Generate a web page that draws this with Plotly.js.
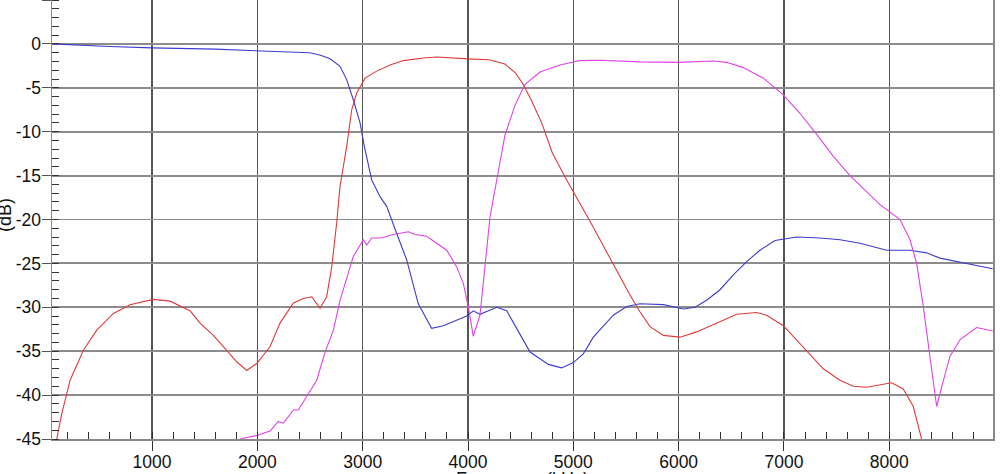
<!DOCTYPE html>
<html>
<head>
<meta charset="utf-8">
<script src="https://cdn.plot.ly/plotly-3.0.1.min.js"></script>
<style>
html,body{margin:0;padding:0;background:#fff;}
#chart{width:1000px;height:474px;}
</style>
</head>
<body>
<div id="chart"></div>
<script>
// Low-pass (blue)
const blueFreq = [50, 300, 600, 1000, 1300, 1600, 1930, 2200, 2500, 2600, 2690, 2785, 2848, 2911, 2975, 3016, 3086, 3165, 3228, 3323, 3418, 3528, 3655, 3766, 3893, 3988, 4050, 4114, 4273, 4368, 4462, 4589, 4763, 4890, 5000, 5095, 5190, 5380, 5507, 5633, 5855, 6045, 6155, 6266, 6393, 6519, 6646, 6772, 6915, 7120, 7342, 7532, 7722, 7975, 8197, 8355, 8481, 8608, 8798, 8982];
const blueDb = [0, -0.15, -0.3, -0.45, -0.5, -0.6, -0.76, -0.85, -1.0, -1.3, -1.7, -2.55, -4.07, -6.36, -9.0, -11.7, -15.5, -17.4, -18.5, -21.6, -24.6, -29.6, -32.4, -32.1, -31.5, -31.0, -30.4, -30.8, -30.0, -30.4, -32.4, -35.1, -36.5, -36.9, -36.3, -35.3, -33.4, -30.9, -29.9, -29.6, -29.7, -30.2, -30.0, -29.2, -28.0, -26.3, -24.8, -23.5, -22.4, -22.0, -22.1, -22.3, -22.7, -23.5, -23.5, -23.8, -24.4, -24.7, -25.1, -25.6];

// Band-pass (red)
const redFreq = [95, 143, 222, 348, 475, 633, 791, 1013, 1171, 1361, 1456, 1582, 1709, 1804, 1899, 1994, 2120, 2215, 2342, 2436, 2516, 2595, 2658, 2706, 2753, 2785, 2848, 2896, 2943, 3022, 3133, 3260, 3386, 3576, 3703, 3829, 4000, 4200, 4350, 4450, 4520, 4600, 4700, 4800, 4937, 5158, 5380, 5538, 5633, 5728, 5855, 6013, 6171, 6361, 6551, 6741, 6836, 6994, 7184, 7373, 7532, 7658, 7785, 7943, 8022, 8133, 8228, 8307];
const redDb = [-45, -42.1, -38.3, -34.9, -32.6, -30.7, -29.7, -29.1, -29.3, -30.4, -31.8, -33.2, -34.9, -36.2, -37.2, -36.4, -34.5, -31.8, -29.5, -29.0, -28.8, -30.1, -28.8, -25.4, -20.4, -16.2, -11.7, -7.5, -5.6, -3.9, -3.1, -2.4, -1.9, -1.6, -1.5, -1.6, -1.7, -1.8, -2.3, -3.3, -4.5, -6.4, -9.0, -12.4, -15.5, -20.2, -25.2, -28.6, -30.5, -32.2, -33.2, -33.4, -32.8, -31.8, -30.8, -30.6, -30.9, -32.1, -34.5, -37.0, -38.3, -39.0, -39.1, -38.8, -38.6, -39.3, -41.3, -45];

// High-pass (magenta)
const magFreq = [1835, 1994, 2120, 2199, 2247, 2342, 2389, 2469, 2564, 2643, 2722, 2785, 2817, 2911, 3006, 3038, 3086, 3181, 3291, 3434, 3497, 3608, 3703, 3798, 3893, 3956, 4003, 4050, 4114, 4161, 4209, 4273, 4351, 4446, 4541, 4684, 4873, 5063, 5253, 5633, 5997, 6329, 6456, 6614, 6804, 6994, 7152, 7311, 7469, 7627, 7912, 8102, 8197, 8260, 8323, 8386, 8450, 8497, 8576, 8671, 8829, 8982];
const magDb = [-45, -44.6, -44.1, -43.0, -43.2, -41.7, -41.7, -40.2, -38.3, -35.1, -32.6, -29.2, -28.0, -24.2, -22.3, -22.9, -22.1, -22.1, -21.7, -21.4, -21.7, -21.9, -22.7, -23.5, -25.4, -27.3, -29.9, -33.3, -30.9, -25.0, -19.7, -15.5, -10.4, -7.0, -4.6, -3.2, -2.4, -1.9, -1.87, -2.05, -2.1, -1.95, -2.1, -2.7, -3.9, -5.8, -7.9, -10.3, -12.8, -15.0, -18.3, -20.0, -22.3, -25.0, -29.9, -35.6, -41.3, -39.1, -35.6, -33.7, -32.3, -32.7];

const xTicks = [1000, 2000, 3000, 4000, 5000, 6000, 7000, 8000];
const yTicks = [-45, -40, -35, -30, -25, -20, -15, -10, -5, 0, 5];
const xTitle = "Frequency (kHz)";
const yTitle = "(dB)";

const traces = [
  {x: blueFreq, y: blueDb, mode: 'lines', line: {color: '#3c3cd0', width: 1.1}},
  {x: redFreq, y: redDb, mode: 'lines', line: {color: '#e03a3a', width: 1.1}},
  {x: magFreq, y: magDb, mode: 'lines', line: {color: '#e040e8', width: 1.1}}
];

const tickFont = {family: 'Liberation Sans, Arial, sans-serif', size: 17.5, color: '#111'};

const layout = {
  width: 1000, height: 474,
  margin: {l: 52, r: 7, t: 0, b: 35, pad: 0},
  paper_bgcolor: '#fff', plot_bgcolor: '#fff',
  showlegend: false,
  xaxis: {
    range: [50, 8985],
    tickmode: 'array', tickvals: xTicks, ticktext: xTicks.map(String),
    ticks: 'outside', ticklen: 10, tickcolor: '#333', tickwidth: 1,
    ticklabelstandoff: -4,
    showgrid: true, gridcolor: '#555', gridwidth: 1.2,
    zeroline: false,
    showline: true, linecolor: '#888', linewidth: 1.5, mirror: true,
    tickfont: tickFont,
    minor: {dtick: 200, tick0: 0, ticks: 'inside', ticklen: 7, tickcolor: '#333', tickwidth: 1, showgrid: false}
  },
  yaxis: {
    range: [-45, 5],
    tickmode: 'array', tickvals: yTicks, ticktext: yTicks.map(String),
    ticks: 'outside', ticklen: 9, tickcolor: '#555', tickwidth: 1,
    ticklabelstandoff: -3,
    showgrid: true, gridcolor: '#8c8c8c', gridwidth: 1.8,
    zeroline: false,
    showline: true, linecolor: '#888', linewidth: 1.5, mirror: true,
    tickfont: tickFont,
    minor: {dtick: 1, tick0: 0, ticks: 'inside', ticklen: 7, tickcolor: '#333', tickwidth: 1, showgrid: false}
  },
  annotations: [
    {text: xTitle, xref: 'paper', yref: 'paper', x: 0.5, y: -0.064, xanchor: 'center', yanchor: 'top',
     showarrow: false, font: {family: 'Liberation Sans, Arial, sans-serif', size: 18, color: '#111'}},
    {text: yTitle, xref: 'paper', yref: 'paper', x: -0.05, y: 0.51, xanchor: 'center', yanchor: 'middle',
     textangle: -90, showarrow: false, font: {family: 'Liberation Sans, Arial, sans-serif', size: 18, color: '#111'}}
  ]
};

Plotly.newPlot('chart', traces, layout, {displayModeBar: false, staticPlot: true});
</script>
</body>
</html>
